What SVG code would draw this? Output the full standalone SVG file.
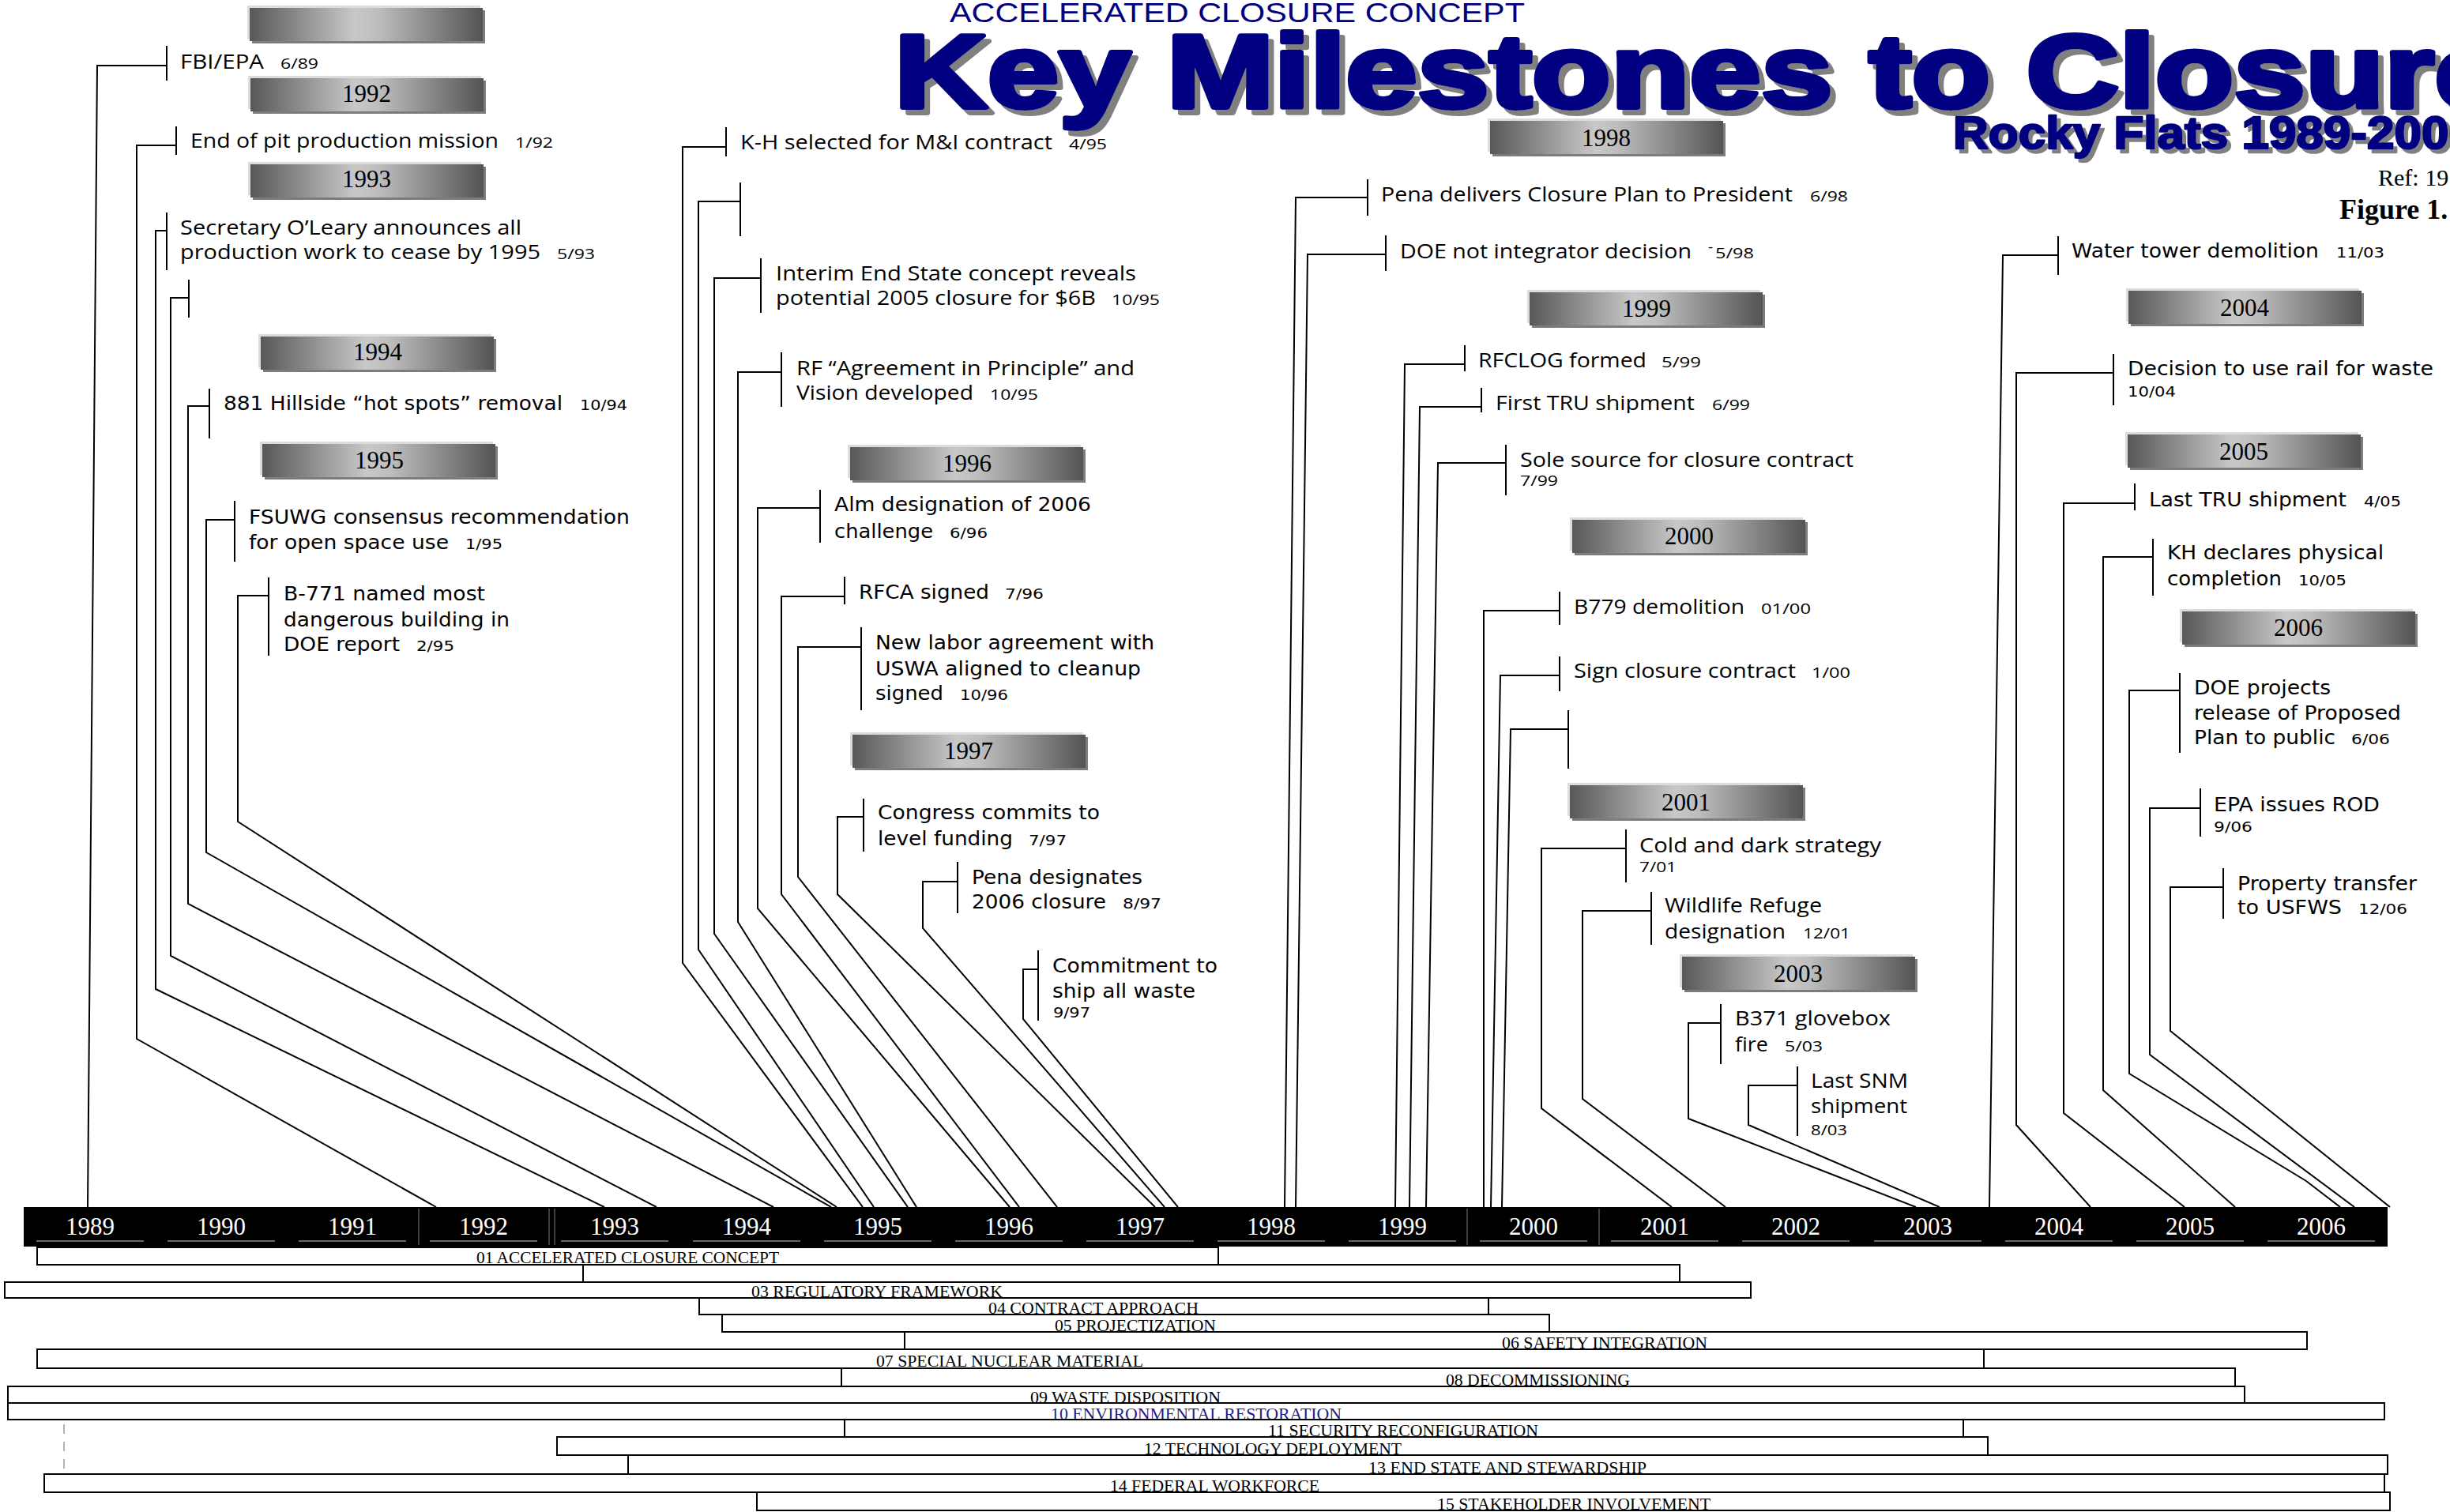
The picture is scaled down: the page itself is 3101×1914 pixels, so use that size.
<svg xmlns="http://www.w3.org/2000/svg" width="3101" height="1914" viewBox="0 0 3101 1914">
<defs>
<linearGradient id="yg" x1="0" y1="0" x2="1" y2="0">
<stop offset="0" stop-color="#585858"/>
<stop offset="0.45" stop-color="#c8c8c8"/>
<stop offset="0.55" stop-color="#bdbdbd"/>
<stop offset="1" stop-color="#545454"/>
</linearGradient>
<filter id="shBig" x="-5%" y="-20%" width="110%" height="150%">
<feFlood flood-color="#808080" result="c"/>
<feComposite in="c" in2="SourceAlpha" operator="in" result="s"/>
<feOffset in="s" dx="7" dy="7" result="o"/>
<feMerge><feMergeNode in="o"/><feMergeNode in="SourceGraphic"/></feMerge>
</filter>
<filter id="shSmall" x="-5%" y="-20%" width="110%" height="150%">
<feFlood flood-color="#808080" result="c"/>
<feComposite in="c" in2="SourceAlpha" operator="in" result="s"/>
<feOffset in="s" dx="5" dy="5" result="o"/>
<feMerge><feMergeNode in="o"/><feMergeNode in="SourceGraphic"/></feMerge>
</filter>
<clipPath id="clipTRU"><rect x="1880" y="480" width="360" height="43"/></clipPath>
<style>
.tk{stroke:#000;stroke-width:2;fill:none}
.cn{stroke:#000;stroke-width:2;fill:none;stroke-linejoin:miter}
.n{font-family:"Open Sans","Liberation Sans",sans-serif;font-size:26px;fill:#000}
.w{font-family:"DejaVu Sans","Liberation Sans",sans-serif;font-size:25px;fill:#000}
.nd{font-family:"Open Sans","Liberation Sans",sans-serif;font-size:19px;fill:#000}
.wd{font-family:"DejaVu Sans","Liberation Sans",sans-serif;font-size:18px;fill:#000}
.yb{fill:url(#yg)}
.ybh{fill:#dcdcdc}
.ybs{fill:#7c7c7c}
.yt{font-family:"Liberation Serif","Times New Roman",serif;font-size:31px;fill:#000;text-anchor:middle}
.yr{font-family:"Liberation Serif","Times New Roman",serif;font-size:31px;fill:#fff;text-anchor:middle}
.ul{stroke:#8a8a8a;stroke-width:1.5}
.sep{stroke:#555;stroke-width:1.5}
.row{fill:none;stroke:#000;stroke-width:2}
.rl{font-family:"Liberation Serif","Times New Roman",serif;font-size:21px;fill:#000}
.ttl{font-family:"Liberation Sans",Arial,sans-serif;font-weight:bold;stroke-linejoin:round;fill:#000080;stroke:#000080}
</style>
</defs>
<rect x="0" y="0" width="3101" height="1914" fill="#fff"/>

<!-- Title -->
<g id="title">
<text x="1202" y="28" font-family="Liberation Sans, Arial, sans-serif" font-size="35" fill="#000080" textLength="728" lengthAdjust="spacingAndGlyphs">ACCELERATED CLOSURE CONCEPT</text>
<text class="ttl" x="1132" y="136" font-size="131" stroke-width="6" filter="url(#shBig)" textLength="2040" lengthAdjust="spacingAndGlyphs">Key Milestones to Closure</text>
<text class="ttl" x="2472" y="188" font-size="57" stroke-width="2.5" filter="url(#shSmall)" textLength="662" lengthAdjust="spacingAndGlyphs">Rocky Flats 1989-2006</text>
<text x="3010" y="235" font-family="Liberation Serif, Times New Roman, serif" font-size="30" fill="#000">Ref: 19</text>
<text x="2961" y="277" font-family="Liberation Serif, Times New Roman, serif" font-size="36" font-weight="bold" fill="#000">Figure 1.</text>
</g>

<!-- Workstream rows -->
<g id="workstreams">
<g id="ws-01"><rect class="row" x="47" y="1579" width="1495" height="22"/><text class="rl" x="603" y="1599" textLength="383" lengthAdjust="spacingAndGlyphs">01 ACCELERATED CLOSURE CONCEPT</text></g>
<g id="ws-02"><rect class="row" x="738" y="1601" width="1388" height="22"/></g>
<g id="ws-03"><rect class="row" x="6" y="1623" width="2210" height="20"/><text class="rl" x="951" y="1642" textLength="318" lengthAdjust="spacingAndGlyphs">03 REGULATORY FRAMEWORK</text></g>
<g id="ws-04"><rect class="row" x="885" y="1643" width="999" height="21"/><text class="rl" x="1251" y="1663" textLength="266" lengthAdjust="spacingAndGlyphs">04 CONTRACT APPROACH</text></g>
<g id="ws-05"><rect class="row" x="914" y="1664" width="1047" height="22"/><text class="rl" x="1335" y="1685" textLength="204" lengthAdjust="spacingAndGlyphs">05 PROJECTIZATION</text></g>
<g id="ws-06"><rect class="row" x="1145" y="1686" width="1775" height="22"/><text class="rl" x="1901" y="1707" textLength="260" lengthAdjust="spacingAndGlyphs">06 SAFETY INTEGRATION</text></g>
<g id="ws-07"><rect class="row" x="47" y="1708" width="2464" height="24"/><text class="rl" x="1109" y="1730" textLength="338" lengthAdjust="spacingAndGlyphs">07 SPECIAL NUCLEAR MATERIAL</text></g>
<g id="ws-08"><rect class="row" x="1065" y="1732" width="1764" height="23"/><text class="rl" x="1830" y="1754" textLength="233" lengthAdjust="spacingAndGlyphs">08 DECOMMISSIONING</text></g>
<g id="ws-09"><rect class="row" x="10" y="1755" width="2831" height="21"/><text class="rl" x="1304" y="1776" textLength="241" lengthAdjust="spacingAndGlyphs">09 WASTE DISPOSITION</text></g>
<g id="ws-10"><rect class="row" x="10" y="1776" width="3008" height="21"/><text class="rl" x="1330" y="1797" style="fill:#1c1c90" textLength="368" lengthAdjust="spacingAndGlyphs">10 ENVIRONMENTAL RESTORATION</text></g>
<g id="ws-11"><rect class="row" x="1069" y="1797" width="1416" height="22"/><text class="rl" x="1605" y="1818" textLength="342" lengthAdjust="spacingAndGlyphs">11 SECURITY RECONFIGURATION</text></g>
<g id="ws-12"><rect class="row" x="705" y="1819" width="1811" height="23"/><text class="rl" x="1448" y="1841" textLength="326" lengthAdjust="spacingAndGlyphs">12 TECHNOLOGY DEPLOYMENT</text></g>
<g id="ws-13"><rect class="row" x="795" y="1842" width="2227" height="24"/><text class="rl" x="1732" y="1865" textLength="352" lengthAdjust="spacingAndGlyphs">13 END STATE AND STEWARDSHIP</text></g>
<g id="ws-14"><rect class="row" x="56" y="1866" width="2962" height="23"/><text class="rl" x="1405" y="1888" textLength="265" lengthAdjust="spacingAndGlyphs">14 FEDERAL WORKFORCE</text></g>
<g id="ws-15"><rect class="row" x="958" y="1889" width="2067" height="23"/><text class="rl" x="1819" y="1911" textLength="346" lengthAdjust="spacingAndGlyphs">15 STAKEHOLDER INVOLVEMENT</text></g>
<line x1="81" y1="1803" x2="81" y2="1860" stroke="#9a9a9a" stroke-width="1.5" stroke-dasharray="12,10"/>
</g>

<!-- Timeline bar -->
<g id="timeline">
<rect x="30" y="1528" width="2992" height="50" fill="#000"/>
<line class="sep" x1="530" y1="1530" x2="530" y2="1576"/>
<line class="sep" x1="695" y1="1530" x2="695" y2="1576"/>
<line class="sep" x1="702" y1="1530" x2="702" y2="1576"/>
<line class="sep" x1="1857" y1="1530" x2="1857" y2="1576"/>
<line class="sep" x1="2024" y1="1530" x2="2024" y2="1576"/>
<g class="ul">
<line x1="46" y1="1571" x2="182" y2="1571"/><line x1="212" y1="1571" x2="348" y2="1571"/><line x1="378" y1="1571" x2="514" y2="1571"/>
<line x1="544" y1="1571" x2="680" y2="1571"/><line x1="710" y1="1571" x2="846" y2="1571"/><line x1="877" y1="1571" x2="1013" y2="1571"/>
<line x1="1043" y1="1571" x2="1179" y2="1571"/><line x1="1209" y1="1571" x2="1345" y2="1571"/><line x1="1375" y1="1571" x2="1511" y2="1571"/>
<line x1="1541" y1="1571" x2="1677" y2="1571"/><line x1="1707" y1="1571" x2="1843" y2="1571"/><line x1="1873" y1="1571" x2="2009" y2="1571"/>
<line x1="2039" y1="1571" x2="2175" y2="1571"/><line x1="2205" y1="1571" x2="2341" y2="1571"/><line x1="2372" y1="1571" x2="2508" y2="1571"/>
<line x1="2538" y1="1571" x2="2674" y2="1571"/><line x1="2704" y1="1571" x2="2840" y2="1571"/><line x1="2870" y1="1571" x2="3006" y2="1571"/>
</g>
<text class="yr" x="114" y="1563">1989</text><text class="yr" x="280" y="1563">1990</text><text class="yr" x="446" y="1563">1991</text>
<text class="yr" x="612" y="1563">1992</text><text class="yr" x="778" y="1563">1993</text><text class="yr" x="945" y="1563">1994</text>
<text class="yr" x="1111" y="1563">1995</text><text class="yr" x="1277" y="1563">1996</text><text class="yr" x="1443" y="1563">1997</text>
<text class="yr" x="1609" y="1563">1998</text><text class="yr" x="1775" y="1563">1999</text><text class="yr" x="1941" y="1563">2000</text>
<text class="yr" x="2107" y="1563">2001</text><text class="yr" x="2273" y="1563">2002</text><text class="yr" x="2440" y="1563">2003</text>
<text class="yr" x="2606" y="1563">2004</text><text class="yr" x="2772" y="1563">2005</text><text class="yr" x="2938" y="1563">2006</text>
</g>

<!-- Year header boxes -->
<g id="yb-top"><rect class="ybh" x="313" y="7" width="295" height="42"/><rect class="ybs" x="319" y="13" width="295" height="42"/><rect class="yb" x="316" y="10" width="295" height="42"/></g>
<g id="yb-1992"><rect class="ybh" x="314" y="96" width="295" height="42"/><rect class="ybs" x="320" y="102" width="295" height="42"/><rect class="yb" x="317" y="99" width="295" height="42"/><text class="yt" x="464" y="129">1992</text></g>
<g id="yb-1993"><rect class="ybh" x="314" y="205" width="295" height="42"/><rect class="ybs" x="320" y="211" width="295" height="42"/><rect class="yb" x="317" y="208" width="295" height="42"/><text class="yt" x="464" y="237">1993</text></g>
<g id="yb-1994"><rect class="ybh" x="327" y="423" width="295" height="42"/><rect class="ybs" x="333" y="429" width="295" height="42"/><rect class="yb" x="330" y="426" width="295" height="42"/><text class="yt" x="478" y="456">1994</text></g>
<g id="yb-1995"><rect class="ybh" x="329" y="559" width="295" height="42"/><rect class="ybs" x="335" y="565" width="295" height="42"/><rect class="yb" x="332" y="562" width="295" height="42"/><text class="yt" x="480" y="593">1995</text></g>
<g id="yb-1996"><rect class="ybh" x="1073" y="563" width="295" height="42"/><rect class="ybs" x="1079" y="569" width="295" height="42"/><rect class="yb" x="1076" y="566" width="295" height="42"/><text class="yt" x="1224" y="597">1996</text></g>
<g id="yb-1997"><rect class="ybh" x="1076" y="927" width="295" height="42"/><rect class="ybs" x="1082" y="933" width="295" height="42"/><rect class="yb" x="1079" y="930" width="295" height="42"/><text class="yt" x="1226" y="961">1997</text></g>
<g id="yb-1998"><rect class="ybh" x="1883" y="150" width="295" height="42"/><rect class="ybs" x="1889" y="156" width="295" height="42"/><rect class="yb" x="1886" y="153" width="295" height="42"/><text class="yt" x="2033" y="185">1998</text></g>
<g id="yb-1999"><rect class="ybh" x="1933" y="367" width="295" height="42"/><rect class="ybs" x="1939" y="373" width="295" height="42"/><rect class="yb" x="1936" y="370" width="295" height="42"/><text class="yt" x="2084" y="401">1999</text></g>
<g id="yb-2000"><rect class="ybh" x="1987" y="655" width="295" height="42"/><rect class="ybs" x="1993" y="661" width="295" height="42"/><rect class="yb" x="1990" y="658" width="295" height="42"/><text class="yt" x="2138" y="689">2000</text></g>
<g id="yb-2001"><rect class="ybh" x="1984" y="991" width="295" height="42"/><rect class="ybs" x="1990" y="997" width="295" height="42"/><rect class="yb" x="1987" y="994" width="295" height="42"/><text class="yt" x="2134" y="1026">2001</text></g>
<g id="yb-2003"><rect class="ybh" x="2126" y="1208" width="295" height="42"/><rect class="ybs" x="2132" y="1214" width="295" height="42"/><rect class="yb" x="2129" y="1211" width="295" height="42"/><text class="yt" x="2276" y="1243">2003</text></g>
<g id="yb-2004"><rect class="ybh" x="2691" y="365" width="295" height="42"/><rect class="ybs" x="2697" y="371" width="295" height="42"/><rect class="yb" x="2694" y="368" width="295" height="42"/><text class="yt" x="2841" y="400">2004</text></g>
<g id="yb-2005"><rect class="ybh" x="2690" y="547" width="295" height="42"/><rect class="ybs" x="2696" y="553" width="295" height="42"/><rect class="yb" x="2693" y="550" width="295" height="42"/><text class="yt" x="2840" y="582">2005</text></g>
<g id="yb-2006"><rect class="ybh" x="2759" y="771" width="295" height="42"/><rect class="ybs" x="2765" y="777" width="295" height="42"/><rect class="yb" x="2762" y="774" width="295" height="42"/><text class="yt" x="2909" y="805">2006</text></g>

<!-- Connectors -->
<g id="connectors" class="cn">
<path d="M211,83 H123 L111,1528"/>
<path d="M223,184 H173 V1315 L552,1528"/>
<path d="M211,292 H197 V1252 L765,1528"/>
<path d="M239,377 H216 V1210 L831,1528"/>
<path d="M265,514 H238 V1144 L979,1528"/>
<path d="M297,658 H261 V1079 L1052,1528"/>
<path d="M340,754 H301 V1040 L1059,1528"/>
<path d="M919,186 H864 V1219 L1092,1528"/>
<path d="M937,255 H884 V1202 L1106,1528"/>
<path d="M963,352 H904 V1182 L1149,1528"/>
<path d="M989,471 H934 V1167 L1160,1528"/>
<path d="M1038,643 H959 V1150 L1278,1528"/>
<path d="M1069,755 H989 V1132 L1290,1528"/>
<path d="M1090,819 H1010 V1110 L1338,1528"/>
<path d="M1093,1034 H1060 V1132 L1462,1528"/>
<path d="M1212,1116 H1168 V1175 L1474,1528"/>
<path d="M1314,1227 H1295 V1290 L1491,1528"/>
<path d="M1731,250 H1640 L1626,1528"/>
<path d="M1754,322 H1655 L1640,1528"/>
<path d="M1854,461 H1778 L1766,1528"/>
<path d="M1875,515 H1797 L1784,1528"/>
<path d="M1906,586 H1820 L1805,1528"/>
<path d="M1974,773 H1878 V1528"/>
<path d="M1974,855 H1899 L1887,1528"/>
<path d="M1985,923 H1912 L1901,1528"/>
<path d="M2058,1074 H1951 V1403 L2116,1528"/>
<path d="M2090,1153 H2003 V1391 L2184,1528"/>
<path d="M2178,1295 H2137 V1416 L2425,1528"/>
<path d="M2275,1374 H2213 V1424 L2455,1528"/>
<path d="M2605,323 H2535 L2518,1528"/>
<path d="M2675,472 H2552 V1424 L2646,1528"/>
<path d="M2702,637 H2612 V1409 L2765,1528"/>
<path d="M2725,705 H2662 V1380 L2829,1528"/>
<path d="M2759,874 H2695 V1359 L2919,1495 L2962,1528"/>
<path d="M2785,1023 H2721 V1335 L2980,1528"/>
<path d="M2814,1123 H2747 V1305 L3025,1528"/>
</g>

<!-- Milestones -->
<g id="m-fbi-epa"><line class="tk" x1="211" y1="58" x2="211" y2="102"/>
<text class="n" x="228" y="87" textLength="106" lengthAdjust="spacingAndGlyphs">FBI/EPA</text>
<text class="nd" x="355" y="87" textLength="48" lengthAdjust="spacingAndGlyphs">6/89</text></g>

<g id="m-pit"><line class="tk" x1="223" y1="160" x2="223" y2="196"/>
<text class="n" x="241" y="187" textLength="390" lengthAdjust="spacingAndGlyphs">End of pit production mission</text>
<text class="nd" x="652" y="187" textLength="48" lengthAdjust="spacingAndGlyphs">1/92</text></g>

<g id="m-oleary"><line class="tk" x1="211" y1="269" x2="211" y2="342"/>
<text class="n" x="228" y="297" textLength="432" lengthAdjust="spacingAndGlyphs">Secretary O’Leary announces all</text>
<text class="n" x="228" y="328" textLength="456" lengthAdjust="spacingAndGlyphs">production work to cease by 1995</text>
<text class="nd" x="705" y="328" textLength="48" lengthAdjust="spacingAndGlyphs">5/93</text></g>

<g id="m-blank-93"><line class="tk" x1="239" y1="354" x2="239" y2="402"/></g>

<g id="m-881"><line class="tk" x1="265" y1="492" x2="265" y2="555"/>
<text class="w" x="283" y="519" textLength="429" lengthAdjust="spacingAndGlyphs">881 Hillside “hot spots” removal</text>
<text class="wd" x="734" y="519" textLength="60" lengthAdjust="spacingAndGlyphs">10/94</text></g>

<g id="m-fsuwg"><line class="tk" x1="297" y1="634" x2="297" y2="711"/>
<text class="w" x="315" y="663" textLength="482" lengthAdjust="spacingAndGlyphs">FSUWG consensus recommendation</text>
<text class="w" x="315" y="695" textLength="253" lengthAdjust="spacingAndGlyphs">for open space use</text>
<text class="wd" x="589" y="695" textLength="47" lengthAdjust="spacingAndGlyphs">1/95</text></g>

<g id="m-b771"><line class="tk" x1="340" y1="731" x2="340" y2="830"/>
<text class="w" x="359" y="760" textLength="255" lengthAdjust="spacingAndGlyphs">B-771 named most</text>
<text class="w" x="359" y="793" textLength="286" lengthAdjust="spacingAndGlyphs">dangerous building in</text>
<text class="w" x="359" y="824" textLength="147" lengthAdjust="spacingAndGlyphs">DOE report</text>
<text class="wd" x="527" y="824" textLength="48" lengthAdjust="spacingAndGlyphs">2/95</text></g>

<g id="m-kh"><line class="tk" x1="919" y1="161" x2="919" y2="198"/>
<text class="n" x="937" y="189" textLength="395" lengthAdjust="spacingAndGlyphs">K-H selected for M&amp;I contract</text>
<text class="nd" x="1353" y="189" textLength="48" lengthAdjust="spacingAndGlyphs">4/95</text></g>

<g id="m-blank-95"><line class="tk" x1="937" y1="231" x2="937" y2="299"/></g>

<g id="m-interim"><line class="tk" x1="963" y1="327" x2="963" y2="396"/>
<text class="n" x="982" y="355" textLength="456" lengthAdjust="spacingAndGlyphs">Interim End State concept reveals</text>
<text class="n" x="982" y="386" textLength="405" lengthAdjust="spacingAndGlyphs">potential 2005 closure for $6B</text>
<text class="nd" x="1407" y="386" textLength="61" lengthAdjust="spacingAndGlyphs">10/95</text></g>

<g id="m-rf-aip"><line class="tk" x1="989" y1="446" x2="989" y2="515"/>
<text class="n" x="1008" y="475" textLength="428" lengthAdjust="spacingAndGlyphs">RF “Agreement in Principle” and</text>
<text class="n" x="1008" y="506" textLength="224" lengthAdjust="spacingAndGlyphs">Vision developed</text>
<text class="nd" x="1253" y="506" textLength="61" lengthAdjust="spacingAndGlyphs">10/95</text></g>

<g id="m-alm"><line class="tk" x1="1038" y1="620" x2="1038" y2="687"/>
<text class="w" x="1056" y="647" textLength="325" lengthAdjust="spacingAndGlyphs">Alm designation of 2006</text>
<text class="w" x="1056" y="681" textLength="125" lengthAdjust="spacingAndGlyphs">challenge</text>
<text class="wd" x="1202" y="681" textLength="48" lengthAdjust="spacingAndGlyphs">6/96</text></g>

<g id="m-rfca"><line class="tk" x1="1069" y1="730" x2="1069" y2="765"/>
<text class="w" x="1087" y="758" textLength="165" lengthAdjust="spacingAndGlyphs">RFCA signed</text>
<text class="wd" x="1272" y="758" textLength="49" lengthAdjust="spacingAndGlyphs">7/96</text></g>

<g id="m-labor"><line class="tk" x1="1090" y1="794" x2="1090" y2="899"/>
<text class="w" x="1108" y="822" textLength="353" lengthAdjust="spacingAndGlyphs">New labor agreement with</text>
<text class="w" x="1108" y="855" textLength="336" lengthAdjust="spacingAndGlyphs">USWA aligned to cleanup</text>
<text class="w" x="1108" y="886" textLength="86" lengthAdjust="spacingAndGlyphs">signed</text>
<text class="wd" x="1215" y="886" textLength="61" lengthAdjust="spacingAndGlyphs">10/96</text></g>

<g id="m-congress"><line class="tk" x1="1093" y1="1011" x2="1093" y2="1078"/>
<text class="w" x="1111" y="1037" textLength="281" lengthAdjust="spacingAndGlyphs">Congress commits to</text>
<text class="w" x="1111" y="1070" textLength="171" lengthAdjust="spacingAndGlyphs">level funding</text>
<text class="wd" x="1302" y="1070" textLength="48" lengthAdjust="spacingAndGlyphs">7/97</text></g>

<g id="m-pena-2006"><line class="tk" x1="1212" y1="1091" x2="1212" y2="1156"/>
<text class="w" x="1230" y="1119" textLength="216" lengthAdjust="spacingAndGlyphs">Pena designates</text>
<text class="w" x="1230" y="1150" textLength="170" lengthAdjust="spacingAndGlyphs">2006 closure</text>
<text class="wd" x="1421" y="1150" textLength="49" lengthAdjust="spacingAndGlyphs">8/97</text></g>

<g id="m-ship-waste"><line class="tk" x1="1314" y1="1203" x2="1314" y2="1292"/>
<text class="w" x="1332" y="1231" textLength="209" lengthAdjust="spacingAndGlyphs">Commitment to</text>
<text class="w" x="1332" y="1263" textLength="181" lengthAdjust="spacingAndGlyphs">ship all waste</text>
<text class="wd" x="1333" y="1288" textLength="47" lengthAdjust="spacingAndGlyphs">9/97</text></g>

<g id="m-pena-plan"><line class="tk" x1="1731" y1="227" x2="1731" y2="273"/>
<text class="n" x="1748" y="255" textLength="521" lengthAdjust="spacingAndGlyphs">Pena delivers Closure Plan to President</text>
<text class="nd" x="2291" y="255" textLength="48" lengthAdjust="spacingAndGlyphs">6/98</text></g>

<g id="m-doe-integrator"><line class="tk" x1="1754" y1="298" x2="1754" y2="343"/>
<text class="n" x="1772" y="327" textLength="369" lengthAdjust="spacingAndGlyphs">DOE not integrator decision</text>
<text class="nd" x="2162" y="319" font-size="11">-</text>
<text class="nd" x="2171" y="327" textLength="49" lengthAdjust="spacingAndGlyphs">5/98</text></g>

<g id="m-rfclog"><line class="tk" x1="1854" y1="437" x2="1854" y2="470"/>
<text class="n" x="1871" y="465" textLength="213" lengthAdjust="spacingAndGlyphs">RFCLOG formed</text>
<text class="nd" x="2103" y="465" textLength="50" lengthAdjust="spacingAndGlyphs">5/99</text></g>

<g id="m-first-tru"><line class="tk" x1="1875" y1="491" x2="1875" y2="522"/>
<text class="n" x="1893" y="519" clip-path="url(#clipTRU)" textLength="252" lengthAdjust="spacingAndGlyphs">First TRU shipment</text>
<text class="nd" x="2167" y="519" textLength="48" lengthAdjust="spacingAndGlyphs">6/99</text></g>

<g id="m-sole-source"><line class="tk" x1="1906" y1="563" x2="1906" y2="627"/>
<text class="n" x="1924" y="591" textLength="422" lengthAdjust="spacingAndGlyphs">Sole source for closure contract</text>
<text class="nd" x="1924" y="615" textLength="48" lengthAdjust="spacingAndGlyphs">7/99</text></g>

<g id="m-b779"><line class="tk" x1="1974" y1="749" x2="1974" y2="791"/>
<text class="n" x="1992" y="777" textLength="216" lengthAdjust="spacingAndGlyphs">B779 demolition</text>
<text class="nd" x="2229" y="777" textLength="63" lengthAdjust="spacingAndGlyphs">01/00</text></g>

<g id="m-sign-contract"><line class="tk" x1="1974" y1="831" x2="1974" y2="875"/>
<text class="n" x="1992" y="858" textLength="281" lengthAdjust="spacingAndGlyphs">Sign closure contract</text>
<text class="nd" x="2293" y="858" textLength="49" lengthAdjust="spacingAndGlyphs">1/00</text></g>

<g id="m-blank-00"><line class="tk" x1="1985" y1="899" x2="1985" y2="973"/></g>

<g id="m-cold-dark"><line class="tk" x1="2058" y1="1050" x2="2058" y2="1117"/>
<text class="n" x="2075" y="1079" textLength="306" lengthAdjust="spacingAndGlyphs">Cold and dark strategy</text>
<text class="nd" x="2075" y="1104" textLength="47" lengthAdjust="spacingAndGlyphs">7/01</text></g>

<g id="m-wildlife"><line class="tk" x1="2090" y1="1129" x2="2090" y2="1196"/>
<text class="n" x="2107" y="1155" textLength="199" lengthAdjust="spacingAndGlyphs">Wildlife Refuge</text>
<text class="n" x="2107" y="1188" textLength="153" lengthAdjust="spacingAndGlyphs">designation</text>
<text class="nd" x="2282" y="1188" textLength="60" lengthAdjust="spacingAndGlyphs">12/01</text></g>

<g id="m-b371"><line class="tk" x1="2178" y1="1271" x2="2178" y2="1347"/>
<text class="n" x="2196" y="1298" textLength="197" lengthAdjust="spacingAndGlyphs">B371 glovebox</text>
<text class="n" x="2196" y="1331" textLength="42" lengthAdjust="spacingAndGlyphs">fire</text>
<text class="nd" x="2259" y="1331" textLength="48" lengthAdjust="spacingAndGlyphs">5/03</text></g>

<g id="m-last-snm"><line class="tk" x1="2275" y1="1350" x2="2275" y2="1438"/>
<text class="n" x="2292" y="1377" textLength="123" lengthAdjust="spacingAndGlyphs">Last SNM</text>
<text class="n" x="2292" y="1409" textLength="122" lengthAdjust="spacingAndGlyphs">shipment</text>
<text class="nd" x="2292" y="1437" textLength="46" lengthAdjust="spacingAndGlyphs">8/03</text></g>

<g id="m-water-tower"><line class="tk" x1="2605" y1="299" x2="2605" y2="348"/>
<text class="w" x="2622" y="326" textLength="313" lengthAdjust="spacingAndGlyphs">Water tower demolition</text>
<text class="wd" x="2957" y="326" textLength="61" lengthAdjust="spacingAndGlyphs">11/03</text></g>

<g id="m-rail"><line class="tk" x1="2675" y1="448" x2="2675" y2="513"/>
<text class="w" x="2693" y="475" textLength="387" lengthAdjust="spacingAndGlyphs">Decision to use rail for waste</text>
<text class="wd" x="2693" y="502" textLength="61" lengthAdjust="spacingAndGlyphs">10/04</text></g>

<g id="m-last-tru"><line class="tk" x1="2702" y1="612" x2="2702" y2="646"/>
<text class="w" x="2720" y="641" textLength="250" lengthAdjust="spacingAndGlyphs">Last TRU shipment</text>
<text class="wd" x="2992" y="641" textLength="47" lengthAdjust="spacingAndGlyphs">4/05</text></g>

<g id="m-kh-complete"><line class="tk" x1="2725" y1="682" x2="2725" y2="754"/>
<text class="w" x="2743" y="708" textLength="274" lengthAdjust="spacingAndGlyphs">KH declares physical</text>
<text class="w" x="2743" y="741" textLength="145" lengthAdjust="spacingAndGlyphs">completion</text>
<text class="wd" x="2909" y="741" textLength="61" lengthAdjust="spacingAndGlyphs">10/05</text></g>

<g id="m-proposed-plan"><line class="tk" x1="2759" y1="852" x2="2759" y2="953"/>
<text class="w" x="2777" y="879" textLength="173" lengthAdjust="spacingAndGlyphs">DOE projects</text>
<text class="w" x="2777" y="911" textLength="262" lengthAdjust="spacingAndGlyphs">release of Proposed</text>
<text class="w" x="2777" y="942" textLength="179" lengthAdjust="spacingAndGlyphs">Plan to public</text>
<text class="wd" x="2976" y="942" textLength="49" lengthAdjust="spacingAndGlyphs">6/06</text></g>

<g id="m-rod"><line class="tk" x1="2785" y1="998" x2="2785" y2="1059"/>
<text class="w" x="2802" y="1027" textLength="210" lengthAdjust="spacingAndGlyphs">EPA issues ROD</text>
<text class="wd" x="2802" y="1053" textLength="49" lengthAdjust="spacingAndGlyphs">9/06</text></g>

<g id="m-transfer"><line class="tk" x1="2814" y1="1099" x2="2814" y2="1163"/>
<text class="w" x="2832" y="1127" textLength="227" lengthAdjust="spacingAndGlyphs">Property transfer</text>
<text class="w" x="2832" y="1157" textLength="132" lengthAdjust="spacingAndGlyphs">to USFWS</text>
<text class="wd" x="2985" y="1157" textLength="62" lengthAdjust="spacingAndGlyphs">12/06</text></g>
</svg>
